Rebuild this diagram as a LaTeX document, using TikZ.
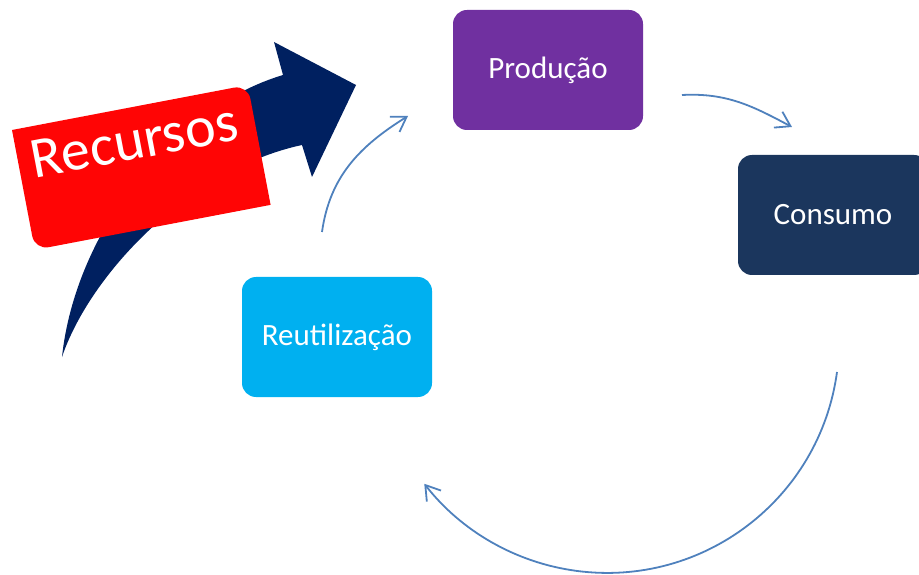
\documentclass[tikz,border=0pt]{standalone}
\usepackage{fontspec}
\setmainfont{Carlito}
\usetikzlibrary{arrows.meta}
\definecolor{roxo}{HTML}{7030A0}
\definecolor{azulescuro}{HTML}{1B365D}
\definecolor{ciano}{HTML}{00B0F0}
\definecolor{marinho}{HTML}{002060}
\definecolor{vermelho}{HTML}{FF0505}
\definecolor{azul}{HTML}{4F81BD}
\begin{document}
\begin{tikzpicture}[x=1pt,y=1pt]
  \tikzstyle{etapa}=[rectangle, rounded corners=14pt, minimum width=190pt,
  minimum height=120pt, text=white, font=\fontsize{31}{36}\selectfont]
  \tikzstyle{seta}=[-{Straight Barb[length=14pt,width=18pt]}, line width=1.8pt, draw=azul]
  \useasboundingbox (0,0) rectangle (919,574);
  % seta grande
  \fill[marinho] (62,217) .. controls (75,340) and (170,465) .. (283,499)
    -- (274,532) -- (356,489) -- (312,397) -- (302,429)
    .. controls (190,405) and (90,300) .. (62,217) -- cycle;
  \begin{scope}[shift={(12,444)}, rotate=10.8]
    \fill[vermelho] (0,0) -- (226,0) arc[start angle=90, end angle=0, radius=14]
      -- (240,-122) -- (14,-122) arc[start angle=270, end angle=180, radius=14] -- cycle;
    \node[anchor=base west, rotate=10.8, text=white, inner sep=0pt,
      font=\fontsize{58}{64}\selectfont] (rec) at (13,-52) {Recursos};
  \end{scope}
  \foreach \n/\x/\y/\c/\t in {prod/548/504/roxo/Produção,
    cons/833/359/azulescuro/Consumo, reut/337/237/ciano/Reutilização} {
    \node[etapa, fill=\c] (\n) at (\x,\y) {\t};
  }
  \coordinate (a1) at (322,342);
  \coordinate (b1) at (408,458);
  \coordinate (a2) at (682,479);
  \coordinate (b2) at (792,447);
  \coordinate (a3) at (837,202);
  \draw[seta] (a1) to[out=82, in=212] (b1);
  \draw[seta] (a2) to[out=3, in=152] (b2);
  \draw[seta] (a3) arc[start angle=-7.7, end angle=-142, radius=232];
\end{tikzpicture}
\end{document}
